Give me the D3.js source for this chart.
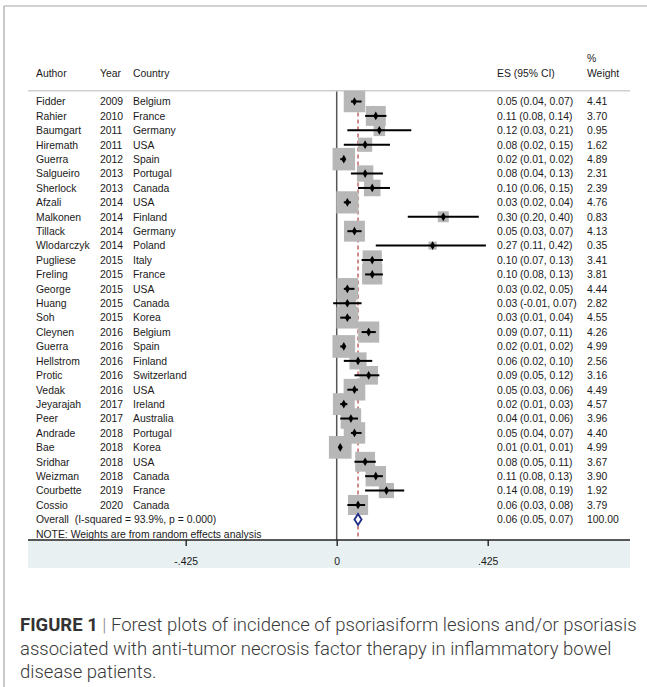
<!DOCTYPE html>
<html>
<head>
<meta charset="utf-8">
<script src="https://cdn.jsdelivr.net/npm/d3@7"></script>
<style>
  html, body { margin: 0; padding: 0; background: #fff; }
  svg { display: block; }
  text { white-space: pre; }
</style>
</head>
<body>
<svg id="chart" width="647" height="687"></svg>
<script>
// ---- data ----
const authors = ["Fidder","Rahier","Baumgart","Hiremath","Guerra","Salgueiro","Sherlock","Afzali","Malkonen","Tillack","Wlodarczyk","Pugliese","Freling","George","Huang","Soh","Cleynen","Guerra","Hellstrom","Protic","Vedak","Jeyarajah","Peer","Andrade","Bae","Sridhar","Weizman","Courbette","Cossio"];
const years = [2009,2010,2011,2011,2012,2013,2013,2014,2014,2014,2014,2015,2015,2015,2015,2015,2016,2016,2016,2016,2016,2017,2017,2018,2018,2018,2018,2019,2020];
const countries = ["Belgium","France","Germany","USA","Spain","Portugal","Canada","USA","Finland","Germany","Poland","Italy","France","USA","Canada","Korea","Belgium","Spain","Finland","Switzerland","USA","Ireland","Australia","Portugal","Korea","USA","Canada","France","Canada"];
const es    = [0.05,0.11,0.12,0.08,0.02,0.08,0.10,0.03,0.30,0.05,0.27,0.10,0.10,0.03,0.03,0.03,0.09,0.02,0.06,0.09,0.05,0.02,0.04,0.05,0.01,0.08,0.11,0.14,0.06];
const ciLow = [0.04,0.08,0.03,0.02,0.01,0.04,0.06,0.02,0.20,0.03,0.11,0.07,0.08,0.02,-0.01,0.01,0.07,0.01,0.02,0.05,0.03,0.01,0.01,0.04,0.01,0.05,0.08,0.08,0.03];
const ciHigh= [0.07,0.14,0.21,0.15,0.02,0.13,0.15,0.04,0.40,0.07,0.42,0.13,0.13,0.05,0.07,0.04,0.11,0.02,0.10,0.12,0.06,0.03,0.06,0.07,0.01,0.11,0.13,0.19,0.08];
const weights = [4.41,3.70,0.95,1.62,4.89,2.31,2.39,4.76,0.83,4.13,0.35,3.41,3.81,4.44,2.82,4.55,4.26,4.99,2.56,3.16,4.49,4.57,3.96,4.40,4.99,3.67,3.90,1.92,3.79];
const overallLabel = "Overall  (I-squared = 93.9%, p = 0.000)";
const overallES = 0.06, overallLow = 0.05, overallHigh = 0.07, overallWeight = 100.00;
const xTicks = [-0.425, 0, 0.425];
const xTickLabels = ["-.425", "0", ".425"];
const noteText = "NOTE: Weights are from random effects analysis";

// ---- layout ----
const svg = d3.select("#chart");
const font = "'Liberation Sans', Arial, Helvetica, sans-serif";
const fs = 10.4;
const textColor = "#1a1a1a";

const x = d3.scaleLinear().domain([-0.425, 0.425]).range([185.7, 487.7]);
const rowKeys = d3.range(authors.length + 1);
const y = d3.scalePoint().domain(rowKeys).range([101.5, 519.4]);
const boxSide = d3.scalePow().exponent(0.5).domain([0, 5]).range([2.9, 22.7]);
const f2 = d3.formatLocale({decimal: ".", thousands: ",", grouping: [3], currency: ["", ""], minus: "-"}).format(".2f");

const left = 28, right = 630, axisY = 540;

// frame
svg.append("line").attr("x1", 4).attr("x2", 647).attr("y1", 6).attr("y2", 6)
  .attr("stroke", "#a6a6a6").attr("stroke-width", 1.2);
svg.append("line").attr("x1", 4).attr("x2", 4).attr("y1", 6).attr("y2", 687)
  .attr("stroke", "#a6a6a6").attr("stroke-width", 1.2);

// axis band
svg.append("rect").attr("x", left).attr("y", axisY).attr("width", right - left).attr("height", 28)
  .attr("fill", "#e8f0f1");

// header
const hdr = svg.append("g").attr("font-family", font).attr("font-size", fs).attr("fill", textColor);
hdr.append("text").attr("x", 36).attr("y", 76.5).text("Author");
hdr.append("text").attr("x", 100).attr("y", 76.5).text("Year");
hdr.append("text").attr("x", 133).attr("y", 76.5).text("Country");
hdr.append("text").attr("x", 497).attr("y", 76.5).text("ES (95% CI)");
hdr.append("text").attr("x", 587).attr("y", 62).text("%");
hdr.append("text").attr("x", 587).attr("y", 76.5).text("Weight");
svg.append("line").attr("x1", left).attr("x2", right).attr("y1", 90.7).attr("y2", 90.7)
  .attr("stroke", "#cfcfcf").attr("stroke-width", 1.5);

// overall dashed line
svg.append("line").attr("x1", x(overallES)).attr("x2", x(overallES))
  .attr("y1", 91.5).attr("y2", axisY)
  .attr("stroke", "#b5403f").attr("stroke-width", 1.2).attr("stroke-dasharray", "4,3");

// zero line
svg.append("line").attr("x1", x(0)).attr("x2", x(0)).attr("y1", 91.5).attr("y2", axisY)
  .attr("stroke", "#555").attr("stroke-width", 1.5);

// study rows
const studies = authors.map((a, i) => ({a, yr: years[i], c: countries[i], es: es[i], lo: ciLow[i], hi: ciHigh[i], w: weights[i], i}));

const boxes = svg.append("g");
boxes.selectAll("rect").data(studies).join("rect")
  .attr("x", d => x(d.es) - boxSide(d.w) / 2)
  .attr("y", d => y(d.i) - boxSide(d.w) / 2)
  .attr("width", d => boxSide(d.w))
  .attr("height", d => boxSide(d.w))
  .attr("fill", "#b7b7b7");

const marks = svg.append("g");
marks.selectAll("line").data(studies).join("line")
  .attr("x1", d => x(d.lo)).attr("x2", d => x(d.hi))
  .attr("y1", d => y(d.i)).attr("y2", d => y(d.i))
  .attr("stroke", "#000").attr("stroke-width", 2);
marks.selectAll("path").data(studies).join("path")
  .attr("d", d3.symbol(d3.symbolDiamond, 22))
  .attr("transform", d => `translate(${x(d.es)},${y(d.i)})`)
  .attr("fill", "#000");

// overall diamond
const oy = y(authors.length);
svg.append("path")
  .attr("d", `M${x(overallLow)},${oy} L${x(overallES)},${oy - 5.5} L${x(overallHigh)},${oy} L${x(overallES)},${oy + 5.5} Z`)
  .attr("fill", "#fff").attr("stroke", "#1f2a85").attr("stroke-width", 1.8);

// row texts
const txt = svg.append("g").attr("font-family", font).attr("font-size", fs).attr("fill", textColor);
const rowG = txt.selectAll("g").data(studies).join("g")
  .attr("transform", d => `translate(0,${y(d.i) + 3.8})`);
rowG.append("text").attr("x", 36).text(d => d.a);
rowG.append("text").attr("x", 100).text(d => d.yr);
rowG.append("text").attr("x", 133).text(d => d.c);
rowG.append("text").attr("x", 497).text(d => `${f2(d.es)} (${f2(d.lo)}, ${f2(d.hi)})`);
rowG.append("text").attr("x", 587).text(d => f2(d.w));

txt.append("text").attr("x", 36).attr("y", oy + 3.8).text(overallLabel);
txt.append("text").attr("x", 497).attr("y", oy + 3.8).text(`${f2(overallES)} (${f2(overallLow)}, ${f2(overallHigh)})`);
txt.append("text").attr("x", 587).attr("y", oy + 3.8).text(f2(overallWeight));
txt.append("text").attr("x", 36).attr("y", 537.8).text(noteText);

// axis
svg.append("line").attr("x1", left).attr("x2", right).attr("y1", axisY).attr("y2", axisY)
  .attr("stroke", "#222").attr("stroke-width", 1.4);
const axisG = svg.append("g").attr("transform", `translate(0,${axisY})`)
  .call(d3.axisBottom(x).tickValues(xTicks).tickFormat((d, i) => xTickLabels[i]).tickSize(6).tickPadding(11.5));
axisG.select(".domain").remove();
axisG.selectAll(".tick line").attr("stroke", "#222").attr("stroke-width", 1.4);
axisG.selectAll(".tick text").attr("font-family", font).attr("font-size", fs).attr("fill", textColor);

// caption
const cap = svg.append("g").attr("font-family", "Roboto, 'Liberation Sans', Arial, sans-serif")
  .attr("font-size", 18.5).attr("fill", "#3a3a3a");
const l1 = cap.append("text").attr("x", 20).attr("y", 630.5);
l1.append("tspan").attr("font-weight", 700).attr("fill", "#333").text("FIGURE 1");
l1.append("tspan").attr("font-weight", 300).attr("fill", "#888").text(" | ");
l1.append("tspan").attr("font-weight", 300).text("Forest plots of incidence of psoriasiform lesions and/or psoriasis");
cap.append("text").attr("x", 20).attr("y", 654.5).attr("font-weight", 300)
  .text("associated with anti-tumor necrosis factor therapy in inflammatory bowel");
cap.append("text").attr("x", 20).attr("y", 678).attr("font-weight", 300)
  .text("disease patients.");
</script>
</body>
</html>
